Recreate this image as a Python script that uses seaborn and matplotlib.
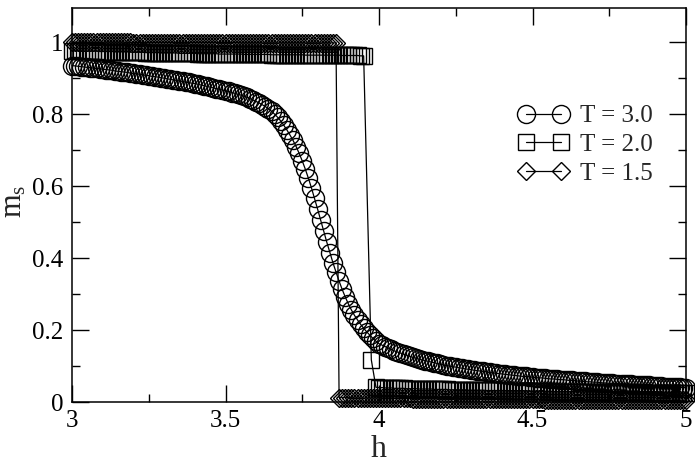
import numpy as np
import matplotlib
matplotlib.use("Agg")
import matplotlib.pyplot as plt
import seaborn as sns
from matplotlib.ticker import MultipleLocator, FuncFormatter

# ---------------- data ----------------
# field grid h = 3.00 ... 5.00, step 0.01
h_grid = np.round(np.arange(300, 501) / 100.0, 2)

# T = 3.0 (circles), one value per grid point
m_T30 = [
    0.935, 0.934, 0.933, 0.932, 0.931, 0.930, 0.929, 0.928, 0.927, 0.926,
    0.925, 0.924, 0.923, 0.922, 0.920, 0.919, 0.918, 0.917, 0.916, 0.914,
    0.913, 0.912, 0.911, 0.909, 0.908, 0.907, 0.905, 0.904, 0.903, 0.901,
    0.900, 0.898, 0.897, 0.895, 0.894, 0.892, 0.891, 0.889, 0.888, 0.886,
    0.885, 0.883, 0.881, 0.879, 0.877, 0.875, 0.873, 0.871, 0.869, 0.867,
    0.865, 0.863, 0.860, 0.858, 0.855, 0.853, 0.850, 0.847, 0.843, 0.839,
    0.835, 0.831, 0.826, 0.821, 0.815, 0.808, 0.800, 0.791, 0.781, 0.769,
    0.756, 0.742, 0.727, 0.710, 0.691, 0.670, 0.647, 0.622, 0.595, 0.566,
    0.536, 0.505, 0.474, 0.444, 0.415, 0.387, 0.361, 0.336, 0.313, 0.292,
    0.273, 0.256, 0.241, 0.228, 0.216, 0.205, 0.195, 0.186, 0.177, 0.169,
    0.162, 0.158, 0.154, 0.150, 0.146, 0.142, 0.139, 0.136, 0.133, 0.130,
    0.127, 0.124, 0.122, 0.119, 0.117, 0.115, 0.113, 0.111, 0.109, 0.107,
    0.105, 0.103, 0.101, 0.100, 0.098, 0.097, 0.095, 0.094, 0.092, 0.091,
    0.090, 0.088, 0.087, 0.086, 0.085, 0.084, 0.082, 0.081, 0.080, 0.079,
    0.078, 0.077, 0.076, 0.075, 0.074, 0.073, 0.072, 0.071, 0.071, 0.070,
    0.069, 0.068, 0.067, 0.067, 0.066, 0.065, 0.064, 0.064, 0.063, 0.062,
    0.062, 0.061, 0.060, 0.060, 0.059, 0.058, 0.058, 0.057, 0.056, 0.056,
    0.055, 0.055, 0.054, 0.053, 0.053, 0.052, 0.052, 0.051, 0.051, 0.050,
    0.050, 0.049, 0.049, 0.048, 0.048, 0.047, 0.047, 0.046, 0.046, 0.045,
    0.045, 0.044, 0.044, 0.043, 0.043, 0.042, 0.042, 0.041, 0.041, 0.040,
    0.040,
]

# T = 2.0 (squares): high branch h = 3.00 ... 3.95
m_T20_high = [
    0.976, 0.976, 0.976, 0.976, 0.975, 0.975, 0.975, 0.975, 0.975, 0.974,
    0.974, 0.974, 0.974, 0.974, 0.973, 0.973, 0.973, 0.973, 0.973, 0.972,
    0.972, 0.972, 0.972, 0.972, 0.971, 0.971, 0.971, 0.971, 0.971, 0.970,
    0.970, 0.970, 0.970, 0.970, 0.970, 0.969, 0.969, 0.969, 0.969, 0.969,
    0.969, 0.968, 0.968, 0.968, 0.968, 0.968, 0.968, 0.968, 0.967, 0.967,
    0.967, 0.967, 0.967, 0.967, 0.967, 0.967, 0.966, 0.966, 0.966, 0.966,
    0.966, 0.966, 0.966, 0.966, 0.966, 0.965, 0.965, 0.965, 0.965, 0.965,
    0.965, 0.965, 0.965, 0.965, 0.965, 0.965, 0.964, 0.964, 0.964, 0.964,
    0.964, 0.964, 0.964, 0.964, 0.964, 0.964, 0.964, 0.964, 0.963, 0.963,
    0.963, 0.963, 0.963, 0.963, 0.962, 0.962,
]
# single point in the middle of the jump
h_T20_jump = [3.975]
m_T20_jump = [0.117]
# low branch h = 3.99 ... 5.00
m_T20_low = [
    0.041,
    0.040, 0.040, 0.039, 0.039, 0.039, 0.038, 0.038, 0.038, 0.038, 0.037,
    0.037, 0.037, 0.037, 0.036, 0.036, 0.036, 0.036, 0.036, 0.035, 0.035,
    0.035, 0.035, 0.035, 0.034, 0.034, 0.034, 0.034, 0.034, 0.034, 0.033,
    0.033, 0.033, 0.033, 0.033, 0.033, 0.032, 0.032, 0.032, 0.032, 0.032,
    0.032, 0.032, 0.031, 0.031, 0.031, 0.031, 0.031, 0.031, 0.031, 0.030,
    0.030, 0.030, 0.030, 0.030, 0.030, 0.030, 0.030, 0.029, 0.029, 0.029,
    0.029, 0.029, 0.029, 0.029, 0.029, 0.029, 0.028, 0.028, 0.028, 0.028,
    0.028, 0.028, 0.028, 0.028, 0.028, 0.028, 0.027, 0.027, 0.027, 0.027,
    0.027, 0.027, 0.027, 0.027, 0.027, 0.027, 0.027, 0.026, 0.026, 0.026,
    0.026, 0.026, 0.026, 0.026, 0.026, 0.026, 0.026, 0.026, 0.025, 0.025,
    0.025,
]

# T = 1.5 (diamonds): high branch h = 3.00 ... 3.86
m_T15_high = [
    1.000, 1.000, 1.000, 1.000, 1.000, 1.000, 1.000, 1.000, 1.000, 1.000,
    1.000, 1.000, 1.000, 1.000, 1.000, 1.000, 1.000, 1.000, 1.000, 1.000,
    0.999, 0.999, 0.999, 0.999, 0.999, 0.999, 0.999, 0.999, 0.999, 0.999,
    0.999, 0.999, 0.999, 0.999, 0.999, 0.999, 0.999, 0.999, 0.999, 0.999,
    0.999, 0.999, 0.999, 0.999, 0.999, 0.999, 0.999, 0.999, 0.999, 0.999,
    0.999, 0.999, 0.999, 0.999, 0.999, 0.998, 0.998, 0.998, 0.998, 0.998,
    0.998, 0.998, 0.998, 0.998, 0.998, 0.998, 0.998, 0.998, 0.998, 0.998,
    0.998, 0.998, 0.998, 0.998, 0.998, 0.998, 0.998, 0.998, 0.998, 0.998,
    0.998, 0.998, 0.998, 0.998, 0.998, 0.998, 0.998,
]
# low branch h = 3.87 ... 5.00
m_T15_low = [
    0.012, 0.012, 0.012, 0.012, 0.012, 0.011, 0.011, 0.011, 0.011, 0.011,
    0.011, 0.011, 0.011, 0.011, 0.010, 0.010, 0.010, 0.010, 0.010, 0.010,
    0.010, 0.010, 0.010, 0.010, 0.009, 0.009, 0.009, 0.009, 0.009, 0.009,
    0.009, 0.009, 0.009, 0.009, 0.009, 0.009, 0.008, 0.008, 0.008, 0.008,
    0.008, 0.008, 0.008, 0.008, 0.008, 0.008, 0.008, 0.008, 0.008, 0.008,
    0.007, 0.007, 0.007, 0.007, 0.007, 0.007, 0.007, 0.007, 0.007, 0.007,
    0.007, 0.007, 0.007, 0.007, 0.007, 0.007, 0.007, 0.006, 0.006, 0.006,
    0.006, 0.006, 0.006, 0.006, 0.006, 0.006, 0.006, 0.006, 0.006, 0.006,
    0.006, 0.006, 0.006, 0.006, 0.006, 0.006, 0.006, 0.006, 0.006, 0.005,
    0.005, 0.005, 0.005, 0.005, 0.005, 0.005, 0.005, 0.005, 0.005, 0.005,
    0.005, 0.005, 0.005, 0.005, 0.005, 0.005, 0.005, 0.005, 0.005, 0.005,
    0.005, 0.005, 0.005, 0.005,
]

labels = ["T = 3.0", "T = 2.0", "T = 1.5"]
x_ticks = [3, 3.5, 4, 4.5, 5]
y_ticks = [0, 0.2, 0.4, 0.6, 0.8, 1]

# assemble series
h_T20 = np.concatenate([h_grid[h_grid <= 3.955], h_T20_jump, h_grid[h_grid >= 3.985]])
m_T20 = np.concatenate([m_T20_high, m_T20_jump, m_T20_low])
h_T15 = h_grid
m_T15 = np.concatenate([m_T15_high, m_T15_low])

# ---------------- style ----------------
sns.set_style("ticks")
plt.rcParams["font.family"] = ["Liberation Serif", "DejaVu Serif"]
plt.rcParams["mathtext.fontset"] = "custom"
plt.rcParams["mathtext.rm"] = "Liberation Serif"
plt.rcParams["mathtext.it"] = "Liberation Serif:italic"

fig = plt.figure(figsize=(6.95, 4.65), dpi=100)
ax = fig.add_axes([72 / 695, 1 - 402 / 465, (686 - 72) / 695, (402 - 8) / 465])

common = dict(ax=ax, color="black", linewidth=0.9, markerfacecolor="none",
              markeredgecolor="black", markeredgewidth=1.0, estimator=None,
              sort=False, legend=False, clip_on=False, zorder=5)

sns.lineplot(x=h_grid, y=m_T30, marker="o", markersize=13, **common)
sns.lineplot(x=h_T20, y=m_T20, marker="s", markersize=11.5, **common)
sns.lineplot(x=h_T15, y=m_T15, marker="D", markersize=9.5, **common)

ax.set_xlim(3, 5)
ax.set_ylim(0, 1.095)
ax.set_xticks(x_ticks)
ax.set_yticks(y_ticks)
ax.xaxis.set_minor_locator(MultipleLocator(0.25))
ax.yaxis.set_minor_locator(MultipleLocator(0.1))
fmt = FuncFormatter(lambda v, p: f"{v:g}")
ax.xaxis.set_major_formatter(fmt)
ax.yaxis.set_major_formatter(fmt)
ax.tick_params(which="both", direction="in", top=True, right=True,
               labelsize=18, width=1.0, color="black", labelcolor="black")
ax.tick_params(which="major", length=12, pad=6)
ax.tick_params(which="minor", length=6)
for s in ax.spines.values():
    s.set_linewidth(1.1)
    s.set_color("black")

ax.set_xlabel("h", fontsize=23, labelpad=2)
ax.set_ylabel(r"$\mathregular{m_s}$", fontsize=22)
ax.yaxis.set_label_coords(-0.071, 0.51)

leg = ax.legend(handles=ax.lines[:3], labels=labels, loc="upper left",
                bbox_to_anchor=(518 / 695, 1 - 105 / 465),
                bbox_transform=fig.transFigure, frameon=False, fontsize=18,
                numpoints=2, handlelength=2.0, handletextpad=0.5,
                borderpad=0, borderaxespad=0, labelspacing=0.25)

fig.savefig("out.png", dpi=100)
